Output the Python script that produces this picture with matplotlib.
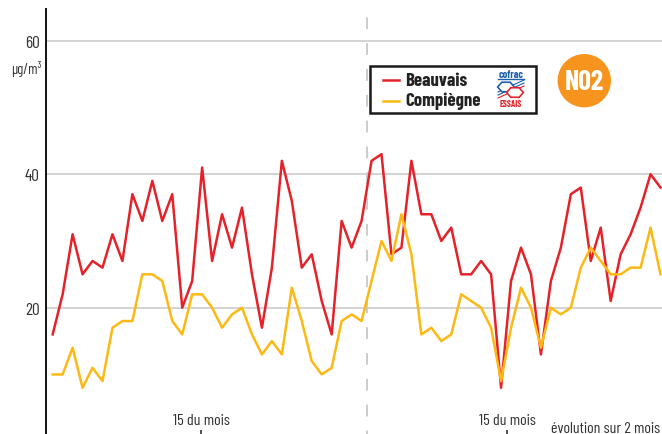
import matplotlib
matplotlib.use('Agg')
import matplotlib.pyplot as plt
from matplotlib.patches import Rectangle, Ellipse, RegularPolygon
from matplotlib.lines import Line2D

# ─── DATA (NO2, µg/m³, daily values over 2 months) ─────────────────────────────
beauvais = [16, 22, 31, 25, 27, 26, 31, 27, 37, 33, 39, 33, 37, 20, 24, 41,
            27, 34, 29, 35, 25, 17, 26, 42, 36, 26, 28, 21, 16, 33, 29,
            33, 42, 43, 28, 29, 42, 34, 34, 30, 32, 25, 25, 27, 25, 8,
            24, 29, 25, 13, 24, 29, 37, 38, 27, 32, 21, 28, 31, 35, 40, 38]
compiegne = [10, 10, 14, 8, 11, 9, 17, 18, 18, 25, 25, 24, 18, 16, 22, 22,
             20, 17, 19, 20, 16, 13, 15, 13, 23, 18, 12, 10, 11, 18, 19,
             18, 24, 30, 27, 34, 28, 16, 17, 15, 16, 22, 21, 20, 17, 9,
             17, 23, 20, 14, 20, 19, 20, 26, 29, 27, 25, 25, 26, 26, 32, 25]
days = list(range(len(beauvais)))
series_names = ['Beauvais', 'Compiègne']
y_ticks = [0, 20, 40, 60]
mid_month = [14.9, 45.6]     # "15 du mois" markers
month_split = 31.5           # dashed separator between the two months

RED = '#E42229'
YELLOW = '#FDB913'
ORANGE = '#F7941E'
BLUE = '#1f5fae'
TEXT = '#333333'

plt.rcParams['font.family'] = ['Barlow Condensed', 'DejaVu Sans']

W, H = 662, 435


def fx(x):
    return x / W


def fy(y):
    return 1 - y / H


fig = plt.figure(figsize=(W / 100, H / 100), dpi=100)
ax = fig.add_axes([fx(46), fy(442.2), (W - 46) / W, (442.2 - 10) / H])
ax.set_xlim(-0.67, 61.15)
ax.set_ylim(0, 64.75)

# grid + spines
ax.set_yticks(y_ticks)
ax.set_yticklabels([str(v) for v in y_ticks])
ax.yaxis.grid(True, color='#cccccc', lw=1.2)
ax.set_axisbelow(True)
for side in ['top', 'right', 'bottom']:
    ax.spines[side].set_visible(False)
ax.spines['left'].set_color('#111111')
ax.spines['left'].set_linewidth(1.4)
ax.tick_params(axis='y', length=0, pad=4.5, labelsize=12.5, labelcolor=TEXT)
ax.set_xticks(mid_month)
ax.set_xticklabels([])
ax.tick_params(axis='x', direction='in', length=7.6, width=1.1, color='#222222')

ax.axvline(month_split, color='#c8c8c8', lw=1.3, ls=(4, (6.5, 7.8)), zorder=1)

ax.plot(days, beauvais, color=RED, lw=1.8, zorder=3)
ax.plot(days, compiegne, color=YELLOW, lw=1.8, zorder=4)

for x in mid_month:
    ax.text(x, 3.2, '15 du mois', ha='center', va='center', fontsize=11.5,
            color=TEXT)
ax.text(60.95, 2.05, 'évolution sur 2 mois', ha='right', va='center',
        fontsize=11.5, color=TEXT)

fig.text(fx(42), fy(69), 'µg/m³', ha='right', va='center', fontsize=10.5,
         color=TEXT)

# ─── legend box with cofrac logo ──────────────────────────────────────────────
fig.add_artist(Rectangle((fx(370), fy(114)), (536 - 370) / W, (114 - 67) / H,
                         transform=fig.transFigure, facecolor='white',
                         edgecolor='#1a1a1a', lw=1.8, zorder=5))
for name, color, y in zip(series_names, [RED, YELLOW], [81, 101.5]):
    fig.add_artist(Line2D([fx(383), fx(399)], [fy(y), fy(y)], color=color,
                          lw=1.8, transform=fig.transFigure, zorder=6))
    fig.text(fx(405), fy(y), name, ha='left', va='center', fontsize=13.5,
             fontweight='bold', color='#222222', zorder=6)

fig.text(fx(511), fy(75), 'cofrac', ha='center', va='center', fontsize=7.5,
         fontweight='bold', color=BLUE, zorder=6)
fig.add_artist(Line2D([fx(498), fx(524)], [fy(80), fy(80)], color=BLUE,
                      lw=1.0, transform=fig.transFigure, zorder=6))
for i in range(3):
    fig.add_artist(Line2D([fx(498), fx(524)], [fy(99 - 3 * i), fy(87 - 3 * i)],
                          color=BLUE if i else RED, lw=0.8,
                          transform=fig.transFigure, zorder=6))
fig.add_artist(RegularPolygon((fx(506), fy(88)), 6, radius=5.5 / H,
                              orientation=0.52, transform=fig.transFigure,
                              facecolor='white', edgecolor=BLUE, lw=1.2,
                              zorder=7))
fig.add_artist(RegularPolygon((fx(515), fy(93.5)), 6, radius=5.5 / H,
                              orientation=0.52, transform=fig.transFigure,
                              facecolor='white', edgecolor=RED, lw=1.2,
                              zorder=7))
fig.text(fx(511), fy(104.5), 'ESSAIS', ha='center', va='center', fontsize=6.5,
         fontweight='bold', color=RED, zorder=6)

# ─── NO2 badge ────────────────────────────────────────────────────────────────
fig.add_artist(Ellipse((fx(584.3), fy(81.7)), 53.4 / W, 53.4 / H,
                       transform=fig.transFigure, facecolor=ORANGE,
                       edgecolor='none', zorder=5))
fig.text(fx(584.3), fy(82), 'N02', ha='center', va='center', fontsize=20,
         fontweight='bold', color='white', zorder=6)

fig.savefig('out.png', dpi=100)
